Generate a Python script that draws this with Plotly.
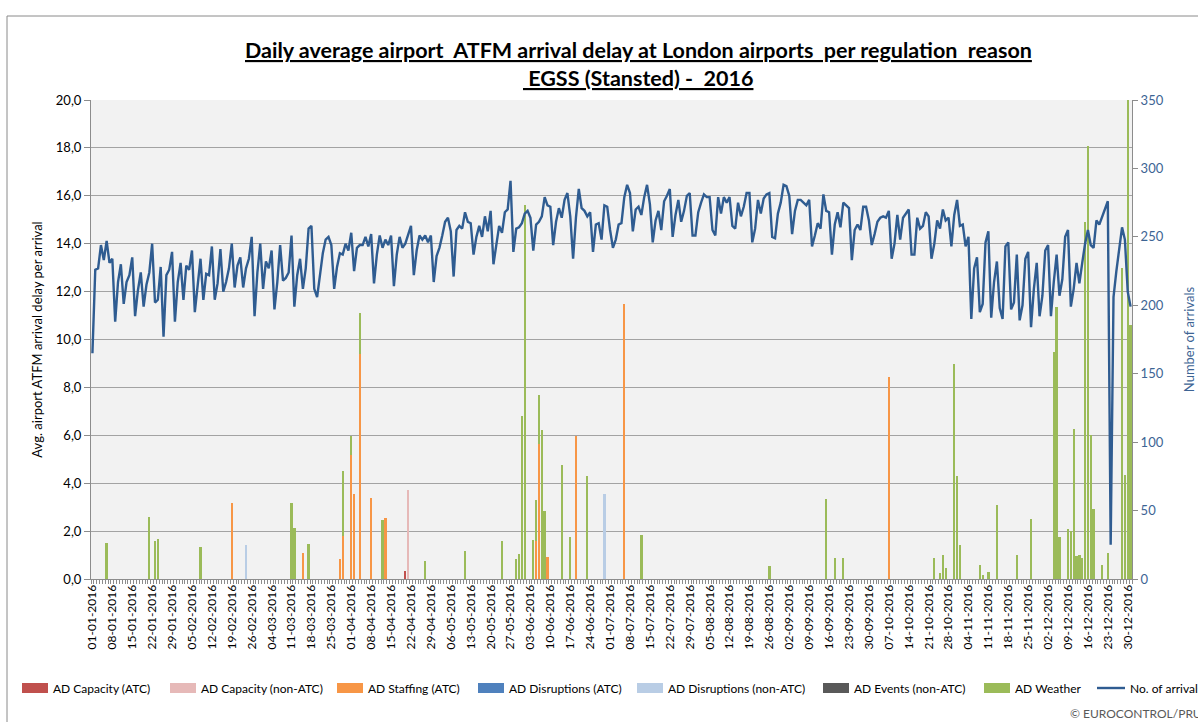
import plotly.graph_objects as go
import pandas as pd

# ---------------- data ----------------
dates = pd.date_range("2016-01-01", "2016-12-31", freq="D")
categories = [d.strftime("%d-%m-%Y") for d in dates]
tick_labels = categories[::7]

arrivals = [
    165, 226, 227, 244, 233, 247, 231, 234, 188, 217,
    230, 201, 217, 222, 235, 192, 211, 224, 199, 215,
    224, 245, 202, 204, 228, 177, 222, 226, 239, 188,
    217, 231, 204, 229, 226, 240, 195, 215, 234, 204,
    223, 222, 243, 204, 216, 241, 210, 217, 227, 245,
    213, 229, 235, 213, 227, 234, 250, 192, 224, 245,
    212, 232, 227, 240, 197, 217, 244, 218, 220, 224,
    251, 199, 222, 234, 212, 227, 256, 258, 212, 206,
    224, 238, 248, 250, 244, 212, 228, 238, 237, 245,
    240, 253, 225, 242, 244, 244, 250, 243, 252, 216,
    237, 251, 242, 248, 244, 251, 214, 237, 250, 242,
    245, 251, 258, 222, 240, 251, 248, 251, 246, 251,
    217, 236, 242, 251, 261, 264, 254, 221, 255, 258,
    256, 268, 261, 260, 237, 250, 258, 250, 265, 254,
    269, 230, 246, 258, 253, 268, 270, 291, 239, 256,
    257, 260, 267, 269, 264, 240, 259, 261, 265, 279,
    273, 272, 244, 261, 271, 264, 277, 282, 265, 234,
    264, 285, 271, 269, 265, 268, 239, 259, 260, 248,
    273, 272, 255, 242, 248, 259, 260, 279, 288, 282,
    254, 270, 272, 266, 279, 288, 274, 246, 262, 269,
    255, 276, 280, 285, 250, 266, 277, 261, 269, 280,
    282, 251, 251, 268, 275, 281, 279, 279, 255, 251,
    279, 267, 279, 275, 279, 258, 256, 275, 265, 272,
    282, 282, 246, 256, 277, 267, 278, 281, 282, 250,
    249, 267, 275, 288, 287, 280, 252, 269, 277, 277,
    275, 273, 277, 243, 251, 260, 256, 281, 269, 268,
    237, 259, 268, 257, 275, 273, 271, 233, 255, 259,
    255, 272, 272, 262, 244, 252, 261, 264, 265, 264,
    269, 234, 245, 266, 248, 264, 267, 270, 237, 237,
    264, 256, 258, 268, 265, 234, 245, 262, 256, 270,
    262, 264, 243, 266, 277, 258, 259, 243, 250, 190,
    227, 235, 195, 201, 246, 254, 191, 217, 232, 198,
    190, 243, 246, 197, 202, 237, 189, 200, 234, 239,
    184, 212, 231, 192, 207, 240, 244, 192, 217, 237,
    207, 219, 250, 255, 199, 212, 231, 216, 231, 245,
    255, 244, 242, 262, 259, 265, 270, 276, 25, 206,
    225, 243, 257, 248, 210, 199,
]

ad_capacity_atc = {"20-04-2016": 0.35}
ad_capacity_non_atc = {"21-04-2016": 3.73}
ad_staffing_atc = {
    "19-02-2016": 3.16, "15-03-2016": 1.07, "28-03-2016": 0.85, "29-03-2016": 1.80,
    "01-04-2016": 5.18, "02-04-2016": 3.54, "04-04-2016": 9.40, "08-04-2016": 3.39,
    "13-04-2016": 2.55, "05-06-2016": 1.60, "06-06-2016": 5.64, "09-06-2016": 0.93,
    "19-06-2016": 5.97, "06-07-2016": 11.50, "07-10-2016": 8.43,
}
ad_disruptions_atc = {}
ad_disruptions_non_atc = {"24-02-2016": 1.44, "29-06-2016": 3.55}
ad_events_non_atc = {}
ad_weather = {
    "06-01-2016": 1.49, "21-01-2016": 2.60, "23-01-2016": 1.60, "24-01-2016": 1.67,
    "08-02-2016": 1.35, "11-03-2016": 3.16, "12-03-2016": 2.13, "17-03-2016": 1.45,
    "29-03-2016": 2.70, "01-04-2016": 0.80, "04-04-2016": 1.70, "12-04-2016": 2.47,
    "27-04-2016": 0.77, "11-05-2016": 1.18, "24-05-2016": 1.60, "29-05-2016": 0.84,
    "30-05-2016": 1.05, "31-05-2016": 6.80, "01-06-2016": 15.60, "04-06-2016": 1.63,
    "05-06-2016": 1.70, "06-06-2016": 2.05, "07-06-2016": 6.24, "08-06-2016": 2.83,
    "14-06-2016": 4.77, "17-06-2016": 1.77, "23-06-2016": 4.30, "12-07-2016": 1.85,
    "26-08-2016": 0.55, "15-09-2016": 3.32, "18-09-2016": 0.88, "21-09-2016": 0.88,
    "23-10-2016": 0.88, "25-10-2016": 0.24, "26-10-2016": 1.02, "27-10-2016": 0.46,
    "30-10-2016": 8.96, "31-10-2016": 4.31, "01-11-2016": 1.44, "08-11-2016": 0.60,
    "09-11-2016": 0.18, "11-11-2016": 0.28, "14-11-2016": 3.10, "21-11-2016": 1.02,
    "26-11-2016": 2.50, "04-12-2016": 9.48, "05-12-2016": 11.35, "06-12-2016": 1.77,
    "09-12-2016": 2.10, "10-12-2016": 2.00, "11-12-2016": 6.27, "12-12-2016": 0.98,
    "13-12-2016": 1.00, "14-12-2016": 0.88, "15-12-2016": 14.92, "16-12-2016": 18.10,
    "17-12-2016": 6.00, "18-12-2016": 2.93, "21-12-2016": 0.60, "23-12-2016": 1.09,
    "28-12-2016": 12.98, "29-12-2016": 4.35, "30-12-2016": 22.00, "31-12-2016": 10.60,
}

series_names = ["AD Capacity (ATC)", "AD Capacity (non-ATC)", "AD Staffing (ATC)",
                "AD Disruptions (ATC)", "AD Disruptions (non-ATC)", "AD Events (non-ATC)",
                "AD Weather"]
series_data = [ad_capacity_atc, ad_capacity_non_atc, ad_staffing_atc, ad_disruptions_atc,
               ad_disruptions_non_atc, ad_events_non_atc, ad_weather]
line_name = "No. of arrivals"

y_ticks = [0, 2, 4, 6, 8, 10, 12, 14, 16, 18, 20]
y_tick_text = ["0,0", "2,0", "4,0", "6,0", "8,0", "10,0", "12,0", "14,0", "16,0", "18,0", "20,0"]
y2_ticks = [0, 50, 100, 150, 200, 250, 300, 350]

# ---------------- styling ----------------
series_colors = ["#C0504D", "#E6B9B8", "#F79646", "#4F81BD", "#B9CDE5", "#595959", "#9BBB59"]
LINE_COLOR = "#2F5C91"
AXIS_BLUE = "#3D6494"
FONT = "Lato"

W, H = 1198, 722
PL, PR, PT, PB = 91, 1132, 100, 579


def px(x):
    return (x - PL) / (PR - PL)


def py(y):
    return (PB - y) / (PB - PT)


def expand(d):
    return [d.get(c, 0) for c in categories]


fig = go.Figure()
for name, color, data in zip(series_names, series_colors, series_data):
    fig.add_trace(go.Bar(x=categories, y=expand(data), name=name,
                         marker=dict(color=color, line=dict(width=0)), showlegend=False))
fig.add_trace(go.Scatter(x=categories, y=arrivals, yaxis="y2", name=line_name, mode="lines",
                         line=dict(color=LINE_COLOR, width=2.4), showlegend=False))

tick_text_x = [c if c in tick_labels else "" for c in categories]

fig.update_layout(
    width=W, height=H,
    margin=dict(l=PL, r=W - PR, t=PT, b=H - PB, autoexpand=False),
    paper_bgcolor="white", plot_bgcolor="#F2F2F2",
    barmode="stack", bargap=0.18,
    font=dict(family=FONT, size=12, color="#000000"),
    xaxis=dict(type="category", tickmode="array", tickvals=categories, ticktext=tick_text_x,
               tickangle=-90, ticks="outside", tickson="boundaries", ticklen=4,
               tickcolor="#8C8C8C", showgrid=False, showline=True, linecolor="#8C8C8C",
               linewidth=1, range=[-0.5, len(categories) - 0.5], automargin=False,
               tickfont=dict(size=12, family=FONT, color="#000000")),
    yaxis=dict(range=[0, 20], tickmode="array", tickvals=y_ticks, ticktext=y_tick_text,
               showgrid=True, gridcolor="#A3A3A3", gridwidth=1.3, zeroline=False,
               showline=True, linecolor="#8C8C8C", ticks="outside", ticklen=6,
               tickcolor="#8C8C8C", tickfont=dict(size=13, family=FONT, color="#000000"),
               automargin=False,
               title=dict(text="Avg. airport ATFM arrival delay per arrival",
                          font=dict(size=13, family=FONT, color="#000000"), standoff=10)),
    yaxis2=dict(range=[0, 350], tickmode="array", tickvals=y2_ticks, overlaying="y",
                side="right", showgrid=False, zeroline=False, showline=True,
                linecolor="#8C8C8C", ticks="outside", ticklen=5, tickcolor="#8C8C8C",
                tickfont=dict(size=13, family=FONT, color=AXIS_BLUE), automargin=False,
                title=dict(text="Number of arrivals",
                           font=dict(size=13, family=FONT, color=AXIS_BLUE), standoff=22)),
)

annotations = []
shapes = []

# title
annotations.append(dict(
    text="<b><u>Daily average airport  ATFM arrival delay at London airports  per regulation  reason</u></b>",
    xref="paper", yref="paper", x=px(638), y=py(50), xanchor="center", yanchor="middle",
    showarrow=False, font=dict(size=21.5, family=FONT, color="#000000")))
annotations.append(dict(
    text="<b><u> EGSS (Stansted) -  2016</u></b>",
    xref="paper", yref="paper", x=px(638), y=py(78), xanchor="center", yanchor="middle",
    showarrow=False, font=dict(size=21.5, family=FONT, color="#000000")))

# manual legend
legend_rect_x = [22, 170, 337, 478, 637, 823, 984]
legend_y = 688
for name, color, x0 in zip(series_names, series_colors, legend_rect_x):
    shapes.append(dict(type="rect", xref="paper", yref="paper",
                       x0=px(x0), x1=px(x0 + 26), y0=py(legend_y + 5), y1=py(legend_y - 5),
                       fillcolor=color, line=dict(width=0)))
    annotations.append(dict(text=name, xref="paper", yref="paper", x=px(x0 + 29),
                            y=py(legend_y), xanchor="left", yanchor="middle", showarrow=False,
                            font=dict(size=12, family=FONT, color="#000000")))
shapes.append(dict(type="line", xref="paper", yref="paper", x0=px(1097), x1=px(1125),
                   y0=py(legend_y), y1=py(legend_y), line=dict(color=LINE_COLOR, width=2.4)))
annotations.append(dict(text=line_name, xref="paper", yref="paper", x=px(1128), y=py(legend_y),
                        xanchor="left", yanchor="middle", showarrow=False,
                        font=dict(size=12, family=FONT, color="#000000")))

# copyright
annotations.append(dict(text="© EUROCONTROL/PRU", xref="paper", yref="paper", x=px(1068),
                        y=py(713), xanchor="left", yanchor="middle", showarrow=False,
                        font=dict(size=12, family=FONT, color="#595959")))

# outer chart border
shapes.append(dict(type="rect", xref="paper", yref="paper", x0=px(7), x1=px(1260),
                   y0=py(760), y1=py(16), line=dict(color="#8A8A8A", width=1),
                   fillcolor="rgba(0,0,0,0)", layer="below"))

fig.update_layout(annotations=annotations, shapes=shapes)

fig.write_html("out.html")
